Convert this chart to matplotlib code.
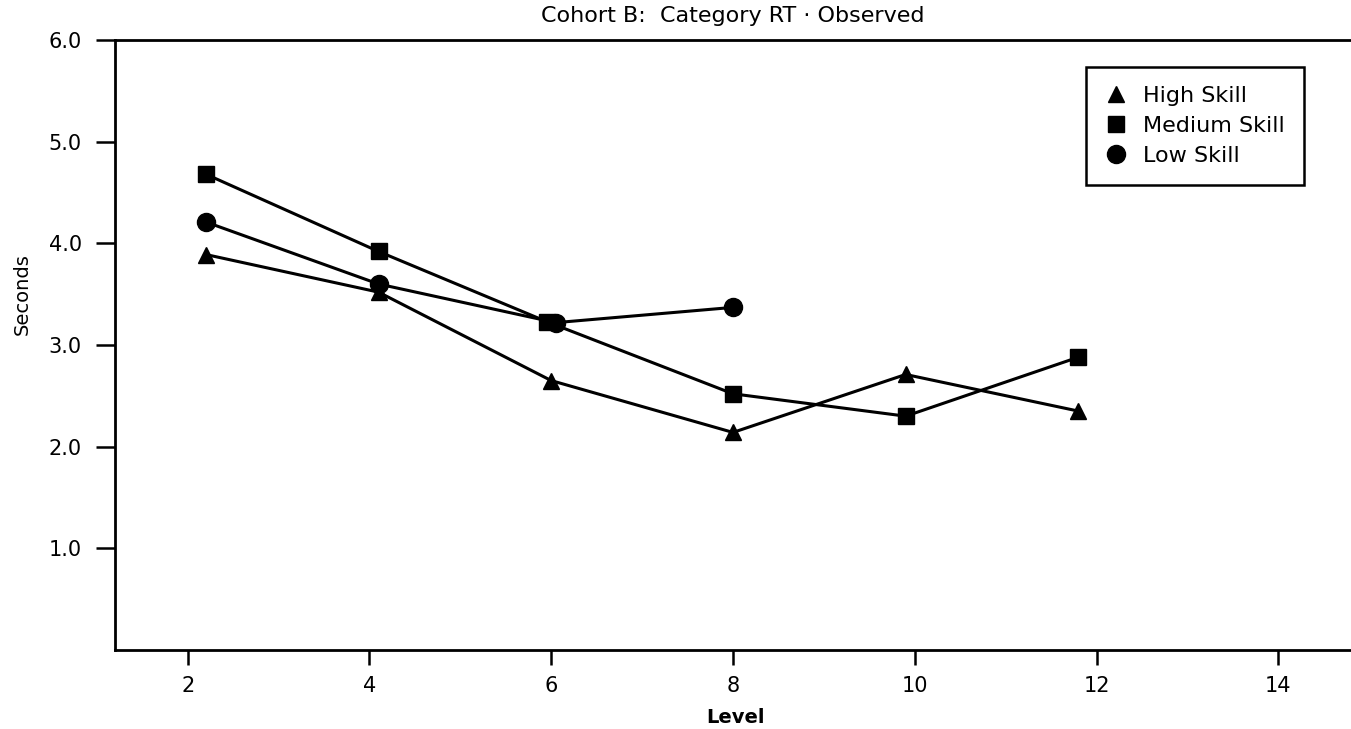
import matplotlib.pyplot as plt
from matplotlib.lines import Line2D

# reaction time by level, one series per skill group
level_high = [2.2, 4.1, 6.0, 8.0, 9.9, 11.8]
rt_high = [3.89, 3.52, 2.65, 2.14, 2.71, 2.35]

level_medium = [2.2, 4.1, 5.95, 8.0, 9.9, 11.8]
rt_medium = [4.68, 3.92, 3.23, 2.52, 2.30, 2.88]

level_low = [2.2, 4.1, 6.05, 8.0]
rt_low = [4.21, 3.60, 3.22, 3.37]

x_ticks = [2, 4, 6, 8, 10, 12, 14]
y_ticks = [1, 2, 3, 4, 5, 6]
y_tick_labels = ['1.0', '2.0', '3.0', '4.0', '5.0', '6.0']

plt.rcParams['font.family'] = ['DejaVu Sans']

fig = plt.figure(figsize=(13.51, 7.29), dpi=100)
ax = fig.add_axes([0.0851, 0.1084, 0.9149, 0.8367])

ax.plot(level_high, rt_high, color='black', lw=2.2, marker='^', ms=11)
ax.plot(level_medium, rt_medium, color='black', lw=2.2, marker='s', ms=12)
ax.plot(level_low, rt_low, color='black', lw=2.2, marker='o', ms=13)

ax.set_xlim(1.2, 14.8)
ax.set_ylim(0, 6)
ax.set_xticks(x_ticks)
ax.set_yticks(y_ticks)
ax.set_yticklabels(y_tick_labels)

ax.spines['right'].set_visible(False)
for side in ['left', 'bottom', 'top']:
    ax.spines[side].set_linewidth(2)

ax.tick_params(axis='y', length=14, width=1.8, pad=10, labelsize=15)
ax.tick_params(axis='x', length=11, width=1.8, pad=8, labelsize=15)

ax.set_title('Cohort B:  Category RT \u00b7 Observed', fontsize=16, pad=13)
ax.set_xlabel('Level', fontsize=14, fontweight='bold')
ax.xaxis.set_label_coords(0.502, -0.095)
ax.set_ylabel('Seconds', fontsize=14,
              family=['Liberation Sans Narrow', 'DejaVu Sans'])
ax.yaxis.set_label_coords(-0.067, 0.584)

handles = [
    Line2D([], [], color='black', ls='none', marker='^', ms=12),
    Line2D([], [], color='black', ls='none', marker='s', ms=12),
    Line2D([], [], color='black', ls='none', marker='o', ms=13),
]
leg = ax.legend(handles, ['High Skill', 'Medium Skill', 'Low Skill'],
                loc='upper left', bbox_to_anchor=(0.786, 0.956),
                borderaxespad=0, fontsize=16, labelspacing=0.45,
                handlelength=1.0, handletextpad=0.69, borderpad=0.85,
                fancybox=False, framealpha=1, edgecolor='black')
leg.get_frame().set_linewidth(1.8)

fig.savefig('out.png', dpi=100)
